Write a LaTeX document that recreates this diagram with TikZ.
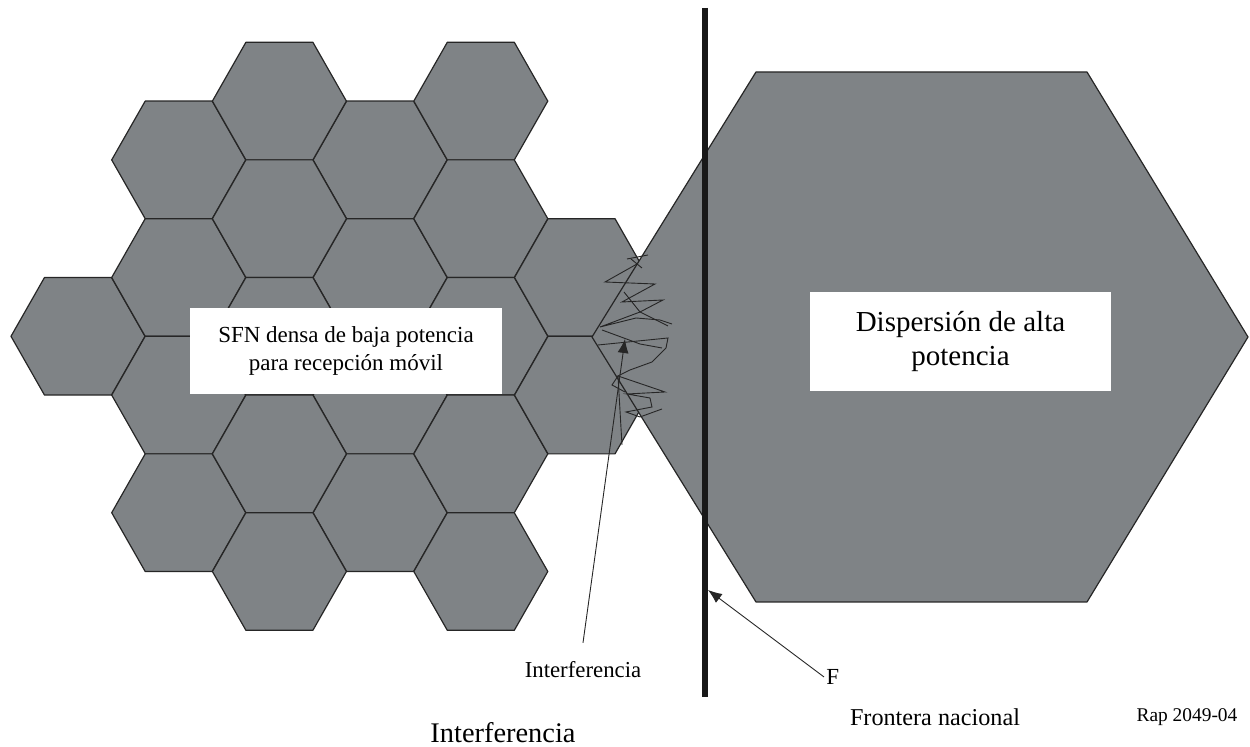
\documentclass[tikz,border=0pt]{standalone}
\usepackage{fontspec}
\setmainfont{Liberation Serif}
\usetikzlibrary{arrows.meta,positioning}
\definecolor{hexgray}{RGB}{127,131,134}
\definecolor{hexedge}{RGB}{38,38,38}
\tikzset{
  cell/.style={fill=hexgray,draw=hexedge,line width=0.6pt,line join=round},
  scribble/.style={draw=hexedge,line width=0.45pt},
  pointer/.style={draw=hexedge,line width=0.45pt,-{Latex[length=7pt,width=5.5pt]}},
  textbox/.style={fill=white,inner sep=0pt,align=center}
}
\newcommand{\hexcell}[2]{% column, level
  \pgfmathsetmacro{\cx}{78+100.7*#1}
  \pgfmathsetmacro{\cy}{42.3+58.8*#2}
  \draw[cell] (\cx-67,\cy) -- (\cx-33.5,\cy-58.8) -- (\cx+33.5,\cy-58.8)
    -- (\cx+67,\cy) -- (\cx+33.5,\cy+58.8) -- (\cx-33.5,\cy+58.8) -- cycle;
}

\begin{document}
\begin{tikzpicture}[x=0.5pt,y=-0.5pt]
  \useasboundingbox (0,0) rectangle (1250,747);

  % dense SFN cells
  \hexcell{0}{5}
  \foreach \k in {2,4,6,8}{
    \hexcell{1}{\k}
    \hexcell{3}{\k}
  }
  \foreach \k in {1,3,...,9}{
    \hexcell{2}{\k}
    \hexcell{4}{\k}
  }
  \hexcell{5}{4}
  \hexcell{5}{6}

  % high power cell
  \draw[cell] (592,337) -- (756,72) -- (1087,72) -- (1248,337)
    -- (1087,602) -- (756,602) -- cycle;

  % interference scribble
  \draw[scribble] (627,259) -- (648,255);
  \draw[scribble] (631,259) -- (642,268);
  \draw[scribble] (637,264) -- (605,282) -- (655,284) -- (622,302) -- (663,300)
    -- (640,312) -- (600,327) -- (636,318) -- (660,320) -- (672,324);
  \draw[scribble] (624,292) -- (640,312) -- (668,326);
  \draw[scribble] (602,330) -- (640,344) -- (662,348);
  \draw[scribble] (598,345) -- (668,338) -- (666,348) -- (652,362) -- (630,370)
    -- (618,376) -- (665,392) -- (627,394) -- (650,398) -- (652,407)
    -- (626,412) -- (640,417) -- (662,409);
  \draw[scribble] (618,376) -- (612,385) -- (625,392);
  \draw[scribble] (618,376) -- (622,445);

  % border
  \draw[line width=3pt,color=black!90] (704.5,8) -- (704.5,697);

  \node[textbox,minimum width=156pt,minimum height=43pt,
    font=\fontsize{11.5}{14}\selectfont] (sfn) at (346,351)
    {SFN densa de baja potencia\\[0pt]para recepción móvil};
  \node[textbox,minimum width=150.5pt,minimum height=49.5pt,
    font=\fontsize{14.5}{17}\selectfont] (high) at (960.5,342)
    {Dispersión de alta\\potencia};

  \node[font=\fontsize{11.4}{13}\selectfont] (intf) at (583,670) {Interferencia};
  \coordinate (intftip) at (625,339);
  \draw[pointer] ([yshift=6pt]intf.north) -- (intftip);

  \node[anchor=west,inner sep=1pt,font=\fontsize{11.5}{13}\selectfont] (fr) at (824,677) {F};
  \coordinate (frtip) at (708,590);
  \draw[pointer] (fr.west) -- (frtip);

  \node[inner sep=0pt,font=\fontsize{14.2}{16}\selectfont] (intfbig) at (503,733) {Interferencia};
  \node[font=\fontsize{12.1}{14}\selectfont] (border) at (935,717) {Frontera nacional};
  \node[font=\fontsize{9.7}{11}\selectfont] (rap) at (1187,717) {Rap 2049-04};
\end{tikzpicture}
\end{document}
